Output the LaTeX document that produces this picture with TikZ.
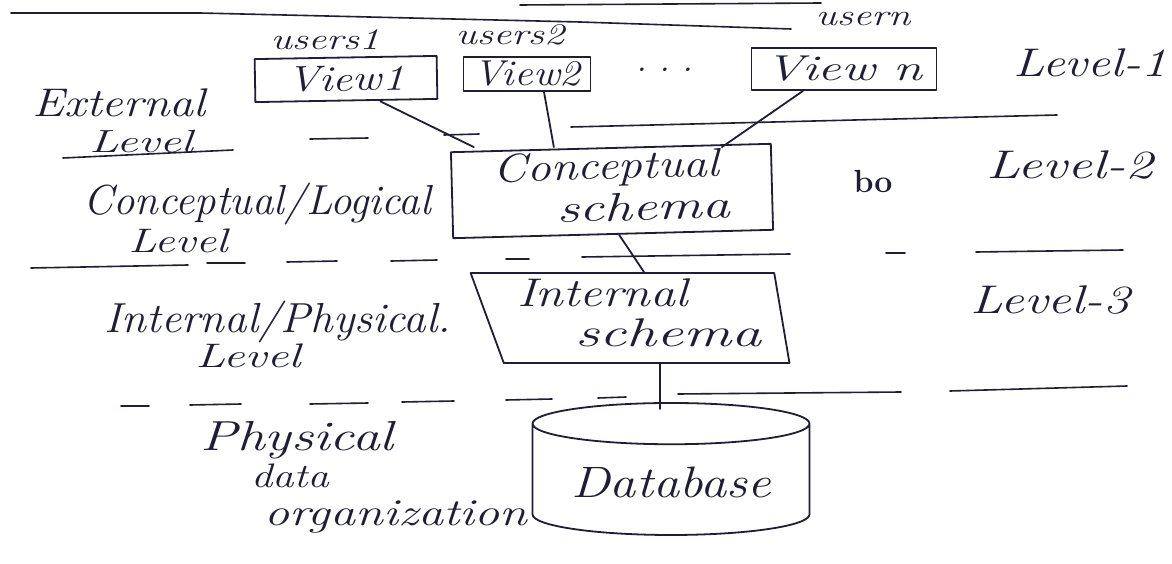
\documentclass[tikz,border=0pt]{standalone}
\usetikzlibrary{shapes.geometric,calc}
\definecolor{ink}{RGB}{30,30,52}
% widen a handwritten word horizontally
\newcommand\hw[2]{\scalebox{#1}[1]{#2}}
\begin{document}
\begin{tikzpicture}[x=1pt,y=-1pt,
  pen/.style={draw=ink,line width=1.8pt,line cap=round,line join=round},
  hand/.style={text=ink,inner sep=0pt,font=\fontsize{#1}{#1}\selectfont\itshape},
  hand/.default=40,
  viewbox/.style={pen,rectangle,inner sep=2pt,text=ink,font=\fontsize{36}{36}\selectfont\itshape},
  schemabox/.style={pen,text=ink,inner sep=2pt,font=\fontsize{40}{34}\selectfont\itshape},
  link/.style={pen},
  sep/.style={pen,line width=1.6pt}]
\fill[white] (0,0) rectangle (1172,564);
\useasboundingbox (0,0) rectangle (1172,564);

% rules across the top of the page
\draw[sep] (11,13) -- (200,13) -- (580,22) -- (791,29);
\draw[sep] (520,5) -- (821,3);

% external level: user views
\node[hand=30] (u1) at (325,40) {\hw{1.35}{users1}};
\node[hand=30] (u2) at (510,35) {\hw{1.35}{users2}};
\node[hand=30] (un) at (863,19) {\hw{1.35}{usern}};
\node[viewbox,minimum width=182,minimum height=43,rotate=1] (v1) at (346,79) {\hw{1.25}{View1}};
\node[viewbox,minimum width=127,minimum height=34] (v2) at (527,74) {\hw{1.15}{View2}};
\node[hand=36] (dots) at (665,70) {.\,\,.\,\,.};
\node[viewbox,minimum width=185,minimum height=42] (vn) at (844,69) {\hw{1.45}{View n}};

% conceptual and internal schemas
\node[schemabox,minimum width=320,minimum height=86,rotate=1.5] (cs) at (612,191)
  {\begin{tabular}{@{}l@{}}\hw{1.2}{Conceptual}\\[4pt]\hspace*{62pt}\hw{1.4}{schema}\end{tabular}};
\node[pen,trapezium,trapezium left angle=111,trapezium right angle=80,trapezium stretches=true,
      minimum width=320,minimum height=90,inner sep=0pt,text=ink,
      font=\fontsize{40}{34}\selectfont\itshape] (is) at (639,318)
  {\begin{tabular}{@{}l@{}}\hw{1.25}{Internal}\\[2pt]\hspace*{58pt}\hw{1.5}{schema}\end{tabular}};

% stored database
\node[pen,cylinder,shape border rotate=90,aspect=0.2,minimum width=277,minimum height=132,
      text=ink,font=\fontsize{44}{44}\selectfont\itshape] (db) at (671,482) {\hw{1.19}{Database}};

% links between the levels
\draw[link] ([xshift=34]v1.south) -- ([xshift=-137]cs.north);
\draw[link] ([xshift=17]v2.south) -- ([xshift=-57]cs.north);
\draw[link] ([xshift=-41]vn.south) -- ([xshift=111]cs.north);
\draw[link] ([xshift=6]cs.south) -- ([xshift=5]is.north);
\draw[link] ([xshift=21]is.south) -- ([xshift=-11,yshift=-7]db.north);

% level separators
\draw[sep] (63,158) -- (233,150);
\draw[sep] (310,139) -- (368,138);
\draw[sep] (444,135) -- (479,134);
\draw[sep] (571,127) -- (1057,115);
\draw[sep] (31,268) -- (188,265);
\draw[sep] (207,263) -- (245,263);
\draw[sep] (287,262) -- (337,261);
\draw[sep] (391,261) -- (437,260);
\draw[sep] (506,259) -- (529,259);
\draw[sep] (582,257) -- (790,254);
\draw[sep] (886,253) -- (905,253);
\draw[sep] (976,252) -- (1123,250);
\draw[sep] (121,406) -- (149,406);
\draw[sep] (190,405) -- (241,404);
\draw[sep] (310,404) -- (368,403);
\draw[sep] (402,402) -- (454,401);
\draw[sep] (506,400) -- (552,399);
\draw[sep] (598,398) -- (626,397);
\draw[sep] (678,394) -- (901,392);
\draw[sep] (950,391) -- (1127,386);

% level names on the left
\node[hand=40] (ext) at (119,103) {\hw{1.2}{External}};
\node[hand=32] (extl) at (141,142) {\hw{1.5}{Level}};
\node[hand=42] (con) at (257,204) {\hw{1.02}{Conceptual/Logical}};
\node[hand=34] (conl) at (178,241) {\hw{1.35}{Level}};
\node[hand=42] (int) at (278,322) {\hw{1.07}{Internal/Physical.}};
\node[hand=34] (intl) at (248,356) {\hw{1.43}{Level}};
\node[hand=42] (phy) at (297,440) {\hw{1.32}{Physical}};
\node[hand=34] (dat) at (290,476) {\hw{1.25}{data}};
\node[hand=38] (org) at (396,517) {\hw{1.32}{organization}};

% level numbers on the right
\node[hand=40] (l1) at (1090,63) {\hw{1.27}{Level-1}};
\node[hand=40] (l2) at (1070,165) {\hw{1.38}{Level-2}};
\node[hand=40] (l3) at (1050,300) {\hw{1.32}{Level-3}};
\node[hand=30,font=\fontsize{32}{32}\selectfont\bfseries] (bo) at (873,181) {bo};
\end{tikzpicture}
\end{document}
